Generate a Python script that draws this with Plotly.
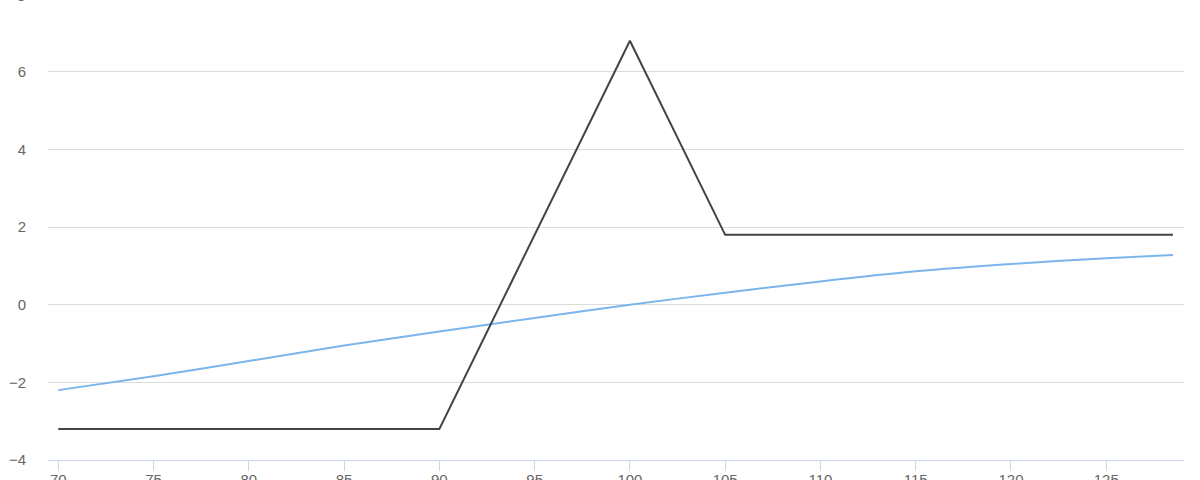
import plotly.graph_objects as go

# Payoff at expiry (piecewise linear)
payoff_x = [70, 90, 100, 105, 128.5]
payoff_y = [-3.2, -3.2, 6.8, 1.8, 1.8]

# Current value curve
curve_x = [70, 75, 80, 85, 90, 95, 100, 105, 110, 115, 120, 125, 128.5]
curve_y = [-2.20, -1.84, -1.45, -1.05, -0.69, -0.34, 0.00, 0.31, 0.60, 0.86, 1.05, 1.20, 1.28]

x_ticks = [70, 75, 80, 85, 90, 95, 100, 105, 110, 115, 120, 125]
y_ticks = [-4, -2, 0, 2, 4, 6, 8]

FONT = "Liberation Sans, Arial, Helvetica, sans-serif"
FS = 15

fig = go.Figure()
fig.add_trace(go.Scatter(
    x=curve_x, y=curve_y, mode="lines",
    line=dict(color="#7cb5ec", width=2, shape="spline", smoothing=0.8),
    hoverinfo="x+y",
))
fig.add_trace(go.Scatter(
    x=payoff_x, y=payoff_y, mode="lines",
    line=dict(color="#434348", width=2),
    hoverinfo="x+y",
))

y_min, y_max = -4, 7.85
fig.update_layout(
    width=1200, height=480,
    margin=dict(l=48, r=16, t=0, b=20, autoexpand=False),
    paper_bgcolor="white", plot_bgcolor="white",
    showlegend=False,
    font=dict(family=FONT, size=FS, color="#666666"),
    xaxis=dict(
        range=[69.46, 129.08], automargin=False,
        tickmode="array", tickvals=x_ticks, ticktext=[str(v) for v in x_ticks],
        showgrid=False, zeroline=False,
        showline=True, linecolor="#ccd6eb", linewidth=1,
        ticks="outside", ticklen=10, tickcolor="#ccd6eb", tickwidth=1,
        ticklabelstandoff=-4,
        tickfont=dict(family=FONT, size=FS, color="#666666"),
    ),
    yaxis=dict(
        range=[y_min, y_max], automargin=False,
        tickmode="array", tickvals=y_ticks,
        ticktext=["\u22124", "\u22122", "0", "2", "4", "6", "8"],
        showgrid=True, gridcolor="#dcdcdc", gridwidth=1,
        zeroline=False, showline=False,
        ticks="", ticklabelstandoff=21,
        tickfont=dict(family=FONT, size=FS, color="#666666"),
    ),
)

# Top tick label (8) sits just above the visible area; draw it as text
fig.add_annotation(
    xref="paper", yref="paper",
    x=0, y=(y_ticks[-1] - y_min) / (y_max - y_min),
    xanchor="right", yanchor="middle", xshift=-21, yshift=-1.5,
    text=str(y_ticks[-1]), showarrow=False,
    font=dict(family=FONT, size=FS, color="#666666"),
)

# The page's default body margin would offset the figure; remove it
fig.write_html(
    "out.html",
    config={"displayModeBar": False},
    post_script="document.body.style.margin='0';",
)
